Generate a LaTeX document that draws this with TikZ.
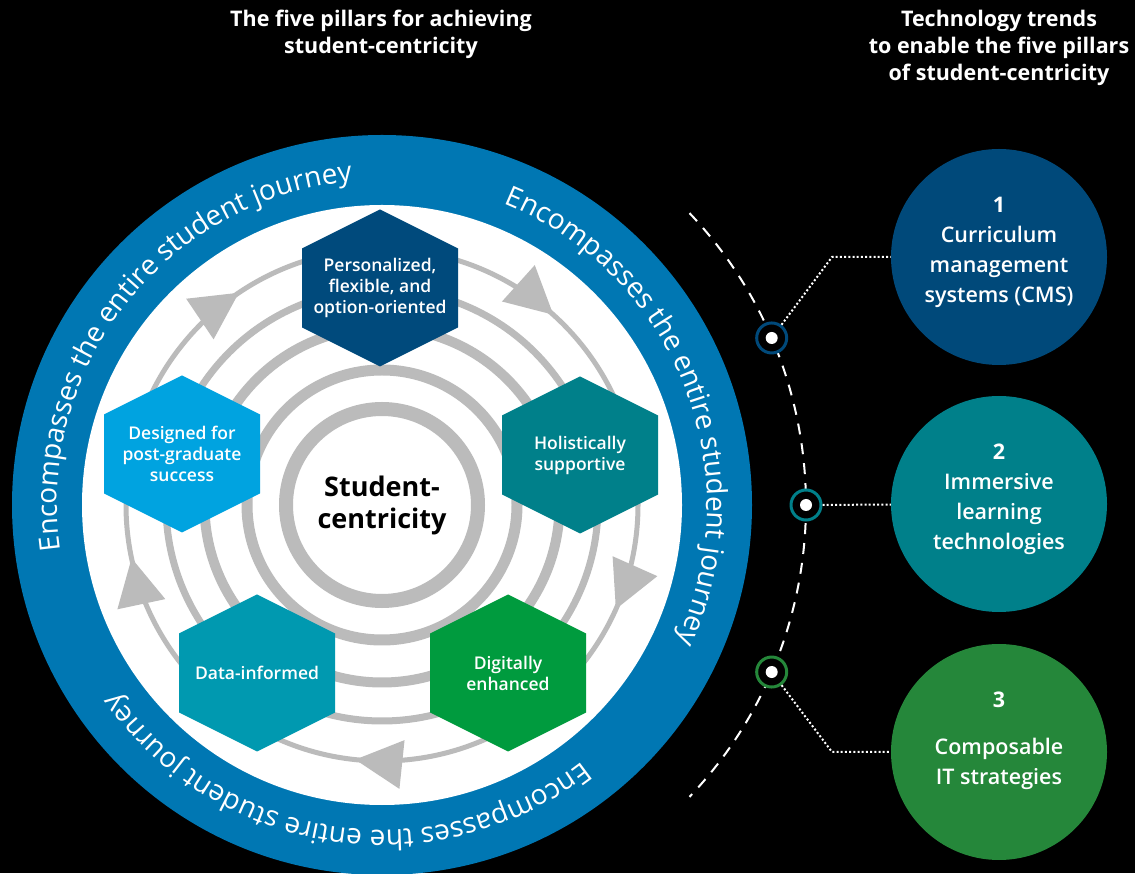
\documentclass[tikz,border=0pt]{standalone}
\usepackage{fontspec}
\setmainfont{Open Sans}
% semibold face for the pillar and trend labels, with fallbacks
\IfFontExistsTF{Open Sans Semibold}
  {\newfontfamily\semib{Open Sans Semibold}}
  {\IfFontExistsTF{Open Sans SemiBold}
    {\newfontfamily\semib{Open Sans SemiBold}}
    {\IfFontExistsTF{OpenSans-Semibold}
      {\newfontfamily\semib{OpenSans-Semibold}}
      {\newfontfamily\semib{Open Sans}[UprightFeatures={FakeBold=2.5}]}}}
\usetikzlibrary{calc,decorations.text}

\definecolor{ringblue}{HTML}{0077B3}
\definecolor{hexnavy}{HTML}{004A7C}
\definecolor{hexteal}{HTML}{00808A}
\definecolor{hexsky}{HTML}{00A3E0}
\definecolor{hexaqua}{HTML}{0099B0}
\definecolor{hexgreen}{HTML}{009B3E}
\definecolor{trendnavy}{HTML}{00497A}
\definecolor{trendteal}{HTML}{00808A}
\definecolor{trendgreen}{HTML}{25873A}
\definecolor{ringgrey}{HTML}{BBBBBB}

\newcommand\ringfont{\fontsize{28pt}{34pt}\selectfont}

\begin{document}
\begin{tikzpicture}[x=1pt,y=1pt,
  hexa/.style={minimum width=156pt, minimum height=157pt, inner sep=0pt,
    text=white, align=center, font=\semib\fontsize{17.5pt}{21pt}\selectfont,
    path picture={\fill[#1] (path picture bounding box.north)
      -- ([yshift=39.5pt]path picture bounding box.east)
      -- ([yshift=-39.5pt]path picture bounding box.east)
      -- (path picture bounding box.south)
      -- ([yshift=-39.5pt]path picture bounding box.west)
      -- ([yshift=39.5pt]path picture bounding box.west) -- cycle;}},
  trend/.style={circle, fill=#1, minimum size=216pt, inner sep=0pt},
  trendtext/.style={text=white, align=center, font=\semib\fontsize{21.5pt}{30pt}\selectfont},
  marker/.style={circle, draw=#1, line width=3pt, fill=black, minimum size=30pt, inner sep=0pt},
  dotline/.style={white, line width=2pt, dash pattern=on 2pt off 2.2pt},
  title/.style={text=white, align=center, font=\bfseries\fontsize{21.5pt}{27pt}\selectfont}]

\fill[black] (0,0) rectangle (1135,873);
\useasboundingbox (0,0) rectangle (1135,873);

% headings
\node[title] (head1) at (381,838.5) {The five pillars for achieving\\student-centricity};
\node[title] (head2) at (999,825) {Technology trends\\to enable the five pillars\\of student-centricity};

% the wheel
\coordinate (C) at (382,368);
\fill[ringblue] (C) circle[radius=370pt];
\fill[white] (C) circle[radius=300pt];

% concentric grey rings
\foreach \r/\w in {96/14,135/11,177.5/10,216/7,256/5}
  \draw[ringgrey, line width=\w pt] (C) circle[radius=\r pt];

% clockwise arrowheads on the outer grey ring
\foreach \a in {124,48,-24,-96,-168}
  \fill[ringgrey] ($(C)+(\a:256pt)$)
    -- ($(C)+(\a:256pt)+(\a+90:47pt)+(\a:24.5pt)$)
    -- ($(C)+(\a:256pt)+(\a+90:47pt)+(\a+180:24.5pt)$) -- cycle;

% lettering around the blue band
\foreach \s in {188,68,-52}
  \path[decorate, decoration={text along path, text color=white,
      text={|\ringfont|Encompasses the entire student journey}}]
    ($(C)+(\s:325pt)$) arc[start angle=\s, end angle=\s-114, radius=325pt];

% the five pillars
\node[hexa=hexnavy] (h1) at (380,585) {Personalized,\\flexible, and\\option-oriented};
\node[hexa=hexteal] (h2) at (580,418) {Holistically\\supportive};
\node[hexa=hexsky] (h3) at (182,419) {Designed for\\post-graduate\\success};
\node[hexa=hexaqua] (h4) at (257,200) {Data-informed};
\node[hexa=hexgreen] (h5) at (508,200) {Digitally\\enhanced};

\node[align=center, font=\bfseries\fontsize{27pt}{32pt}\selectfont] (core) at (C) {Student-\\centricity};

% dashed guide arc with markers
\draw[white, line width=2pt, dash pattern=on 11pt off 9pt]
  ($(C)+(43.5:424pt)$) arc[start angle=43.5, end angle=-43.5, radius=424pt];
\node[marker=trendnavy] (m1) at ($(C)+(23.2:424pt)$) {};
\node[marker=trendteal] (m2) at ($(C)+(0:424pt)$) {};
\node[marker=trendgreen] (m3) at ($(C)+(-23.2:424pt)$) {};
\foreach \m in {m1,m2,m3} \fill[white] (\m) circle[radius=6pt];

% technology trend circles
\node[trend=trendnavy] (c1) at (999,616) {};
\node[trend=trendteal] (c2) at (999,369) {};
\node[trend=trendgreen] (c3) at (999,121) {};
\node[trendtext] (c1t) at (999,621) {{\normalfont\bfseries 1}\\Curriculum\\management\\systems (CMS)};
\node[trendtext] (c2t) at (999,374) {{\normalfont\bfseries 2}\\Immersive\\learning\\technologies};
\node[trendtext] (c3t) at (999,132) {{\normalfont\bfseries 3}\\[17pt]Composable\\IT strategies};

% connectors
\coordinate (k1) at (832,616);
\coordinate (k3) at (832,121);
\draw[dotline] (m1) -- (k1) -- (c1);
\draw[dotline] (m2) -- (c2);
\draw[dotline] (m3) -- (k3) -- (c3);
\end{tikzpicture}
\end{document}
